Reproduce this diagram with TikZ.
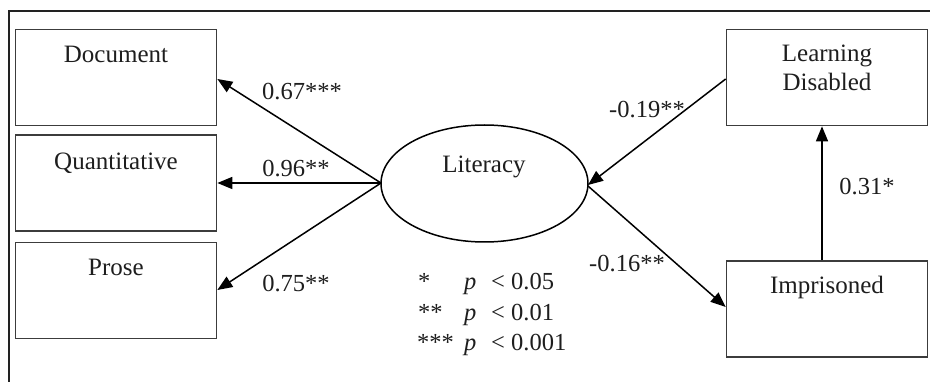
\documentclass[tikz,border=0pt]{standalone}
\usepackage{fontspec}
\setmainfont{Liberation Serif}
\usetikzlibrary{arrows.meta,shapes.geometric}
\definecolor{boxgray}{HTML}{3C3C3C}
\definecolor{framec}{HTML}{222222}
\definecolor{txtc}{HTML}{1E1E1E}
\begin{document}
\begin{tikzpicture}[x=1pt,y=-1pt,
  box/.style={draw=boxgray,line width=1.7pt,minimum width=201pt,minimum height=96pt,inner sep=0pt},
  txt/.style={anchor=base,inner sep=0pt,text=txtc,font=\fontsize{25}{29}\selectfont},
  lbl/.style={anchor=base,inner sep=0pt,text=txtc,font=\fontsize{24.5}{29}\selectfont},
  lglbl/.style={anchor=base west,inner sep=0pt,text=txtc,font=\fontsize{24.5}{29}\selectfont},
  arr/.style={draw=black,line width=1.5pt,-{Triangle[length=15pt,width=12pt]}},
  ell/.style={draw=black,line width=1.5pt,ellipse,minimum width=207pt,minimum height=117pt,inner sep=0pt}
]
\useasboundingbox (0,0) rectangle (930,382);
\fill[white] (0,0) rectangle (930,382);
% frame
\draw[framec,line width=2.8pt] (9,395) -- (9,11) -- (940,11);
% boxes
\node[box] (doc) at (116,77.5) {};
\node[box] (qua) at (116,183) {};
\node[box] (pro) at (116,290.5) {};
\node[box] (ld) at (827,77.5) {};
\node[box] (imp) at (827,309) {};
\node[ell] (lit) at (484.5,183.5) {};
% box texts
\node[txt] (tdoc) at (116,63) {Document};
\node[txt] (tqua) at (116,170) {Quantitative};
\node[txt] (tpro) at (116,276) {Prose};
\node[txt] (tld1) at (827,62) {Learning};
\node[txt] (tld2) at (827,91) {Disabled};
\node[txt] (timp) at (827,294) {Imprisoned};
\node[txt] (tlit) at (484,173) {Literacy};
% connectors
\coordinate (litw) at (381,183);
\coordinate (lite1) at (588,185);
\coordinate (lite2) at (588,186);
\path[arr] (litw) -- (doc.east |- 0,79);
\path[arr] (litw) -- (qua.east);
\path[arr] (litw) -- (pro.east |- 0,290);
\path[arr] (ld.west |- 0,79) -- (lite1);
\path[arr] (lite2) -- (imp.west |- 0,307);
\path[arr] (imp.north -| 822,0) -- (ld.south -| 822,0);
% path labels
\node[lbl] (l1) at (302,100) {0.67***};
\node[lbl] (l2) at (296,177) {0.96**};
\node[lbl] (l3) at (296,292) {0.75**};
\node[lbl] (l4) at (647,118) {-0.19**};
\node[lbl] (l5) at (627,272) {-0.16**};
\node[lbl] (l6) at (867,195) {0.31*};
% legend
\node[lglbl] (s1) at (418,290) {*};
\node[lglbl] (s2) at (418,321) {**};
\node[lglbl] (s3) at (417,351) {***};
\node[lglbl] (p1) at (464,290) {\textit{p}};
\node[lglbl] (p2) at (464,321) {\textit{p}};
\node[lglbl] (p3) at (464,351) {\textit{p}};
\node[lglbl] (v1) at (491,290) {< 0.05};
\node[lglbl] (v2) at (491,321) {< 0.01};
\node[lglbl] (v3) at (491,351) {< 0.001};
\end{tikzpicture}
\end{document}
